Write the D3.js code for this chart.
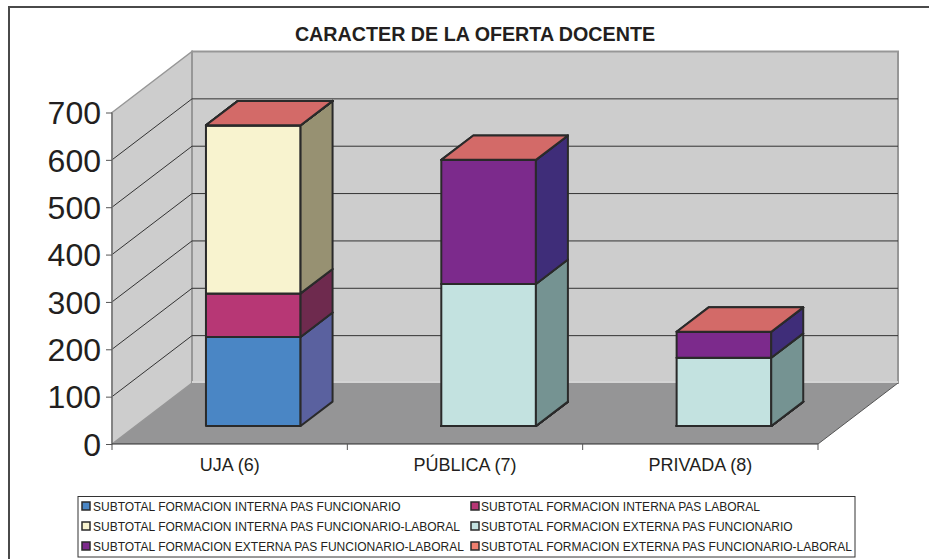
<!DOCTYPE html>
<html><head><meta charset="utf-8">
<script src="https://cdn.jsdelivr.net/npm/d3@7/dist/d3.min.js"></script>
<style>html,body{margin:0;padding:0;background:#fff}svg{display:block}text{font-family:"Liberation Sans",Arial,sans-serif;fill:#231f20}</style>
</head><body><svg id="c" width="929" height="559"></svg>
<script>
const title = "CARACTER DE LA OFERTA DOCENTE";
const categories = ["UJA (6)", "PÚBLICA (7)", "PRIVADA (8)"];
const yTicks = [0,100,200,300,400,500,600,700];
const seriesNames = [
  "SUBTOTAL FORMACION INTERNA PAS FUNCIONARIO",
  "SUBTOTAL FORMACION INTERNA PAS LABORAL",
  "SUBTOTAL FORMACION INTERNA PAS FUNCIONARIO-LABORAL",
  "SUBTOTAL FORMACION EXTERNA PAS FUNCIONARIO",
  "SUBTOTAL FORMACION EXTERNA PAS FUNCIONARIO-LABORAL",
  "SUBTOTAL FORMACION EXTERNA PAS FUNCIONARIO-LABORAL"
];
const internaFuncionario = [188, 0, 0];
const internaLaboral = [92, 0, 0];
const internaMixto = [355, 0, 0];
const externaFuncionario = [0, 300, 144];
const externaMixto = [0, 262, 55];
const externaMixto2 = [0, 0, 0];
const frontColors = ["#4a86c5","#b73775","#f8f3cf","#c3e2e0","#7c2a8c","#d36a68"];
const sideColors  = ["#5a619f","#6e2a4e","#979172","#759392","#3f2d79","#8a4a4a"];
const legendColors = ["#4a86c5","#b73775","#f8f3cf","#c3e2e0","#7c2a8c","#ef7f6f"];

const allValues = [internaFuncionario, internaLaboral, internaMixto, externaFuncionario, externaMixto, externaMixto2];
const svg = d3.select("#c");
const x = d3.scaleBand().domain(categories).range([112, 818]);
const y = d3.scaleLinear().domain([0, 700]).range([444, 112.5]);
const DX = 80, DY = -61;
const px = (xv, d) => xv + DX * d;
const py = (yv, d) => y(yv) + DY * d;
const poly = pts => pts.map(p => p.join(",")).join(" ");
const ink = "#2a2a2a", wallEdge = "#979797";

// frame
svg.append("path").attr("d","M9 559V7H929").attr("fill","none").attr("stroke","#4a4a4a").attr("stroke-width",2);

// title
svg.append("text").attr("x",475).attr("y",41).attr("text-anchor","middle")
  .attr("font-size",19.7).attr("font-weight","bold").text(title);

// walls and floor
const x0 = x.range()[0], x1 = x.range()[1], yMax = 700;
svg.append("polygon").attr("points",poly([[px(x0,0),py(0,0)],[px(x0,1),py(0,1)],[px(x0,1),py(yMax,1)],[px(x0,0),py(yMax,0)]]))
  .attr("fill","#cdcdcd").attr("stroke",wallEdge).attr("stroke-width",1.5);
svg.append("polygon").attr("points",poly([[px(x0,1),py(0,1)],[px(x1,1),py(0,1)],[px(x1,1),py(yMax,1)],[px(x0,1),py(yMax,1)]]))
  .attr("fill","#cdcdcd").attr("stroke",wallEdge).attr("stroke-width",2);
svg.append("polygon").attr("points",poly([[px(x0,0),py(0,0)],[px(x1,0),py(0,0)],[px(x1,1),py(0,1)],[px(x0,1),py(0,1)]]))
  .attr("fill","#959596").attr("stroke","none");
svg.append("line").attr("x1",px(x1,0)).attr("y1",py(0,0)).attr("x2",px(x1,1)).attr("y2",py(0,1)).attr("stroke","#555").attr("stroke-width",1);
svg.append("line").attr("x1",px(x0,1)).attr("y1",py(0,1)-1).attr("x2",px(x1,1)).attr("y2",py(0,1)-1).attr("stroke","#d4d4d4").attr("stroke-width",2);

// gridlines
yTicks.filter(t => t > 0 && t < 700).forEach(t => {
  svg.append("polyline").attr("fill","none").attr("stroke","#333").attr("stroke-width",1)
    .attr("points",poly([[px(x0,0),py(t,0)],[px(x0,1),py(t,1)],[px(x1,1),py(t,1)]]));
});

// y axis
svg.append("line").attr("x1",x0).attr("x2",x0).attr("y1",y(700)).attr("y2",y(0)).attr("stroke","#777").attr("stroke-width",1.5);
const yAxis = d3.axisLeft(y).tickValues(yTicks).tickSize(6).tickPadding(5).tickFormat(d3.format("d"));
const gy = svg.append("g").attr("transform",`translate(${x0},0)`).call(yAxis);
gy.select(".domain").remove();
gy.selectAll("line").attr("stroke","#555");
gy.selectAll("text").attr("font-size",32).attr("fill","#231f20").attr("font-family","'Liberation Sans',Arial,sans-serif").attr("dy","0.35em");

// x axis
svg.append("line").attr("x1",x0).attr("x2",x1).attr("y1",y(0)).attr("y2",y(0)).attr("stroke","#2a2a2a").attr("stroke-width",1.2);
const xTickPos = [...categories.map(c => x(c)), x1];
xTickPos.forEach(p => svg.append("line").attr("x1",p).attr("x2",p).attr("y1",y(0)).attr("y2",y(0)+6).attr("stroke","#555"));
svg.selectAll(".cat").data(categories).join("text").attr("class","cat")
  .attr("x",c => x(c)+x.bandwidth()/2).attr("y",471).attr("text-anchor","middle")
  .attr("font-size",18).text(c => c);

// bars
const stackKeys = d3.range(allValues.length);
const rows = categories.map((c,i) => { const r = {cat:c}; stackKeys.forEach(k => r[k] = allValues[k][i]); return r; });
const stacked = d3.stack().keys(stackKeys)(rows);
const dFront = 0.295, dBack = 0.695, barW = x.bandwidth()*0.402;
categories.forEach((c,i) => {
  const xa = x(c) + (x.bandwidth()-barW)/2, xb = xa + barW;
  stacked.forEach((layer,k) => {
    const [v0,v1] = layer[i];
    const g = svg.append("g").attr("stroke",ink).attr("stroke-width",2).attr("stroke-linejoin","round");
    g.append("polygon").attr("fill",frontColors[k]).attr("points",poly([[px(xa,dFront),py(v0,dFront)],[px(xb,dFront),py(v0,dFront)],[px(xb,dFront),py(v1,dFront)],[px(xa,dFront),py(v1,dFront)]]));
    g.append("polygon").attr("fill",sideColors[k]).attr("points",poly([[px(xb,dFront),py(v0,dFront)],[px(xb,dBack),py(v0,dBack)],[px(xb,dBack),py(v1,dBack)],[px(xb,dFront),py(v1,dFront)]]));
    g.append("polygon").attr("fill",frontColors[k]).attr("points",poly([[px(xa,dFront),py(v1,dFront)],[px(xb,dFront),py(v1,dFront)],[px(xb,dBack),py(v1,dBack)],[px(xa,dBack),py(v1,dBack)]]));
  });
});

// legend
svg.append("rect").attr("x",78).attr("y",496.5).attr("width",777).attr("height",60.5).attr("fill","#fff").attr("stroke","#333").attr("stroke-width",1);
const lg = svg.selectAll(".lg").data(seriesNames).join("g").attr("class","lg")
  .attr("transform",(d,i)=>`translate(${i%2?471:82},${506+Math.floor(i/2)*20})`);
lg.append("rect").attr("x",0).attr("y",-4).attr("width",8).attr("height",8).attr("fill",(d,i)=>legendColors[i]).attr("stroke","#2a2a2a").attr("stroke-width",1.5);
lg.append("text").attr("x",(d,i)=>i%2?10:11).attr("y",4.5).attr("font-size",12).text(d=>d);
</script></body></html>
